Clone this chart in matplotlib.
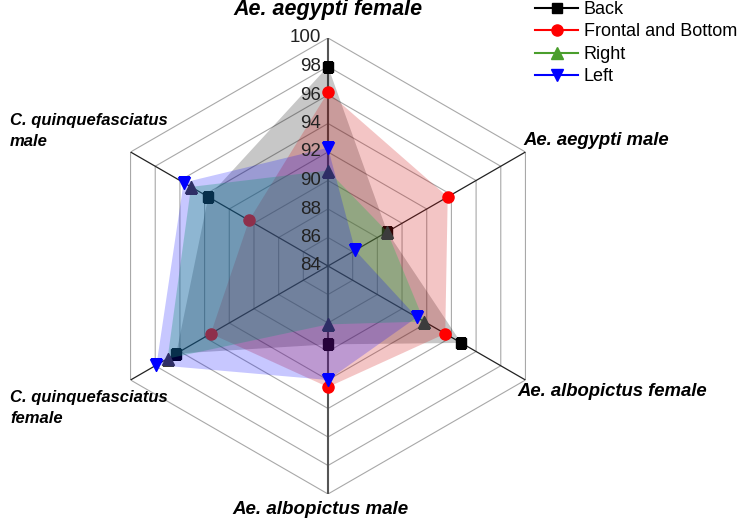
import numpy as np
import matplotlib
matplotlib.use('Agg')
import matplotlib.pyplot as plt
from matplotlib.lines import Line2D

plt.rcParams['font.family'] = ['Liberation Sans', 'DejaVu Sans']

categories = ['Ae. aegypti female', 'Ae. aegypti male', 'Ae. albopictus female',
              'Ae. albopictus male', 'C. quinquefasciatus\nfemale', 'C. quinquefasciatus\nmale']
back = [98.0, 88.8, 94.8, 89.5, 96.3, 93.7]
frontal = [96.2, 93.7, 93.5, 92.5, 93.5, 90.4]
right = [90.7, 88.8, 91.8, 88.1, 97.0, 95.1]
left = [92.3, 86.2, 91.2, 92.0, 97.9, 95.7]
ticks = [84, 86, 88, 90, 92, 94, 96, 98, 100]

series = [
    ('Back', back, 's', 'black', 'black', 'black', 0.22, 7),
    ('Frontal and Bottom', frontal, 'o', 'red', 'red', '#d01010', 0.24, 8),
    ('Right', right, '^', '#4a9e2c', '#3c3c3c', '#20c050', 0.32, 9),
    ('Left', left, 'v', 'blue', 'blue', 'blue', 0.22, 9),
]

fig = plt.figure(figsize=(7.4, 5.2), dpi=100)
ax = fig.add_axes([100 / 740, 26 / 520, 456 / 740, 456 / 520], projection='polar')
ax.set_theta_offset(np.pi / 2)
ax.set_theta_direction(-1)
ax.set_ylim(84, 100)
ax.grid(False)
ax.spines['polar'].set_visible(False)
ax.set_xticks([])
ax.set_yticks([])
ax.patch.set_alpha(0)

n = len(categories)
angles = np.linspace(0, 2 * np.pi, n, endpoint=False)
closed = np.append(angles, angles[0])

# hexagon grid
for t in ticks[1:]:
    ax.plot(closed, [t] * (n + 1), color='#a8a8a8', lw=0.8, zorder=0.5)
for i, a in enumerate(angles):
    if i in (0, 3):
        ax.plot([a, a], [84, 100], color='#555555', lw=1.5, zorder=0.6)
    else:
        ax.plot([a, a], [84, 100], color='#222222', lw=0.9, zorder=0.6)

for k, (name, vals, mk, lc, mc, fc, alpha, ms) in enumerate(series):
    v = np.append(vals, vals[0])
    ax.fill(closed, v, color=fc, alpha=alpha, lw=0, zorder=1 + k)
    ax.plot(angles, vals, ls='none', marker=mk, color=mc, ms=ms, zorder=1.5 + k)

for t in ticks:
    ax.annotate(str(t), xy=(0, t), xytext=(-5, 0), textcoords='offset points',
                ha='right', va='center', fontsize=13.5, color='#222222', zorder=10)

lab = dict(fontweight='bold', fontstyle='italic')
fig.text(328 / 740, 1 - 10 / 520, categories[0], ha='center', va='center', fontsize=15.5, **lab)
fig.text(523 / 740, 1 - 141 / 520, categories[1], ha='left', va='center', fontsize=13.3, **lab)
fig.text(517 / 740, 1 - 392 / 520, categories[2], ha='left', va='center', fontsize=13.3, **lab)
fig.text(320 / 740, 1 - 509 / 520, categories[3], ha='center', va='center', fontsize=13.5, **lab)
fig.text(10 / 740, 1 - 408 / 520, categories[4], ha='left', va='center', fontsize=12,
         linespacing=1.45, **lab)
fig.text(10 / 740, 1 - 131 / 520, categories[5], ha='left', va='center', fontsize=12,
         linespacing=1.45, **lab)

handles = [Line2D([], [], color=lc, marker=mk, ms=ms, label=name)
           for name, vals, mk, lc, mc, fc, alpha, ms in series]
fig.legend(handles=handles, loc='upper left', bbox_to_anchor=(535 / 740, 0.998),
           frameon=False, fontsize=13, handlelength=2.4, handletextpad=0.3,
           labelspacing=0.3, borderpad=0, borderaxespad=0)

fig.savefig('out.png', dpi=100)
